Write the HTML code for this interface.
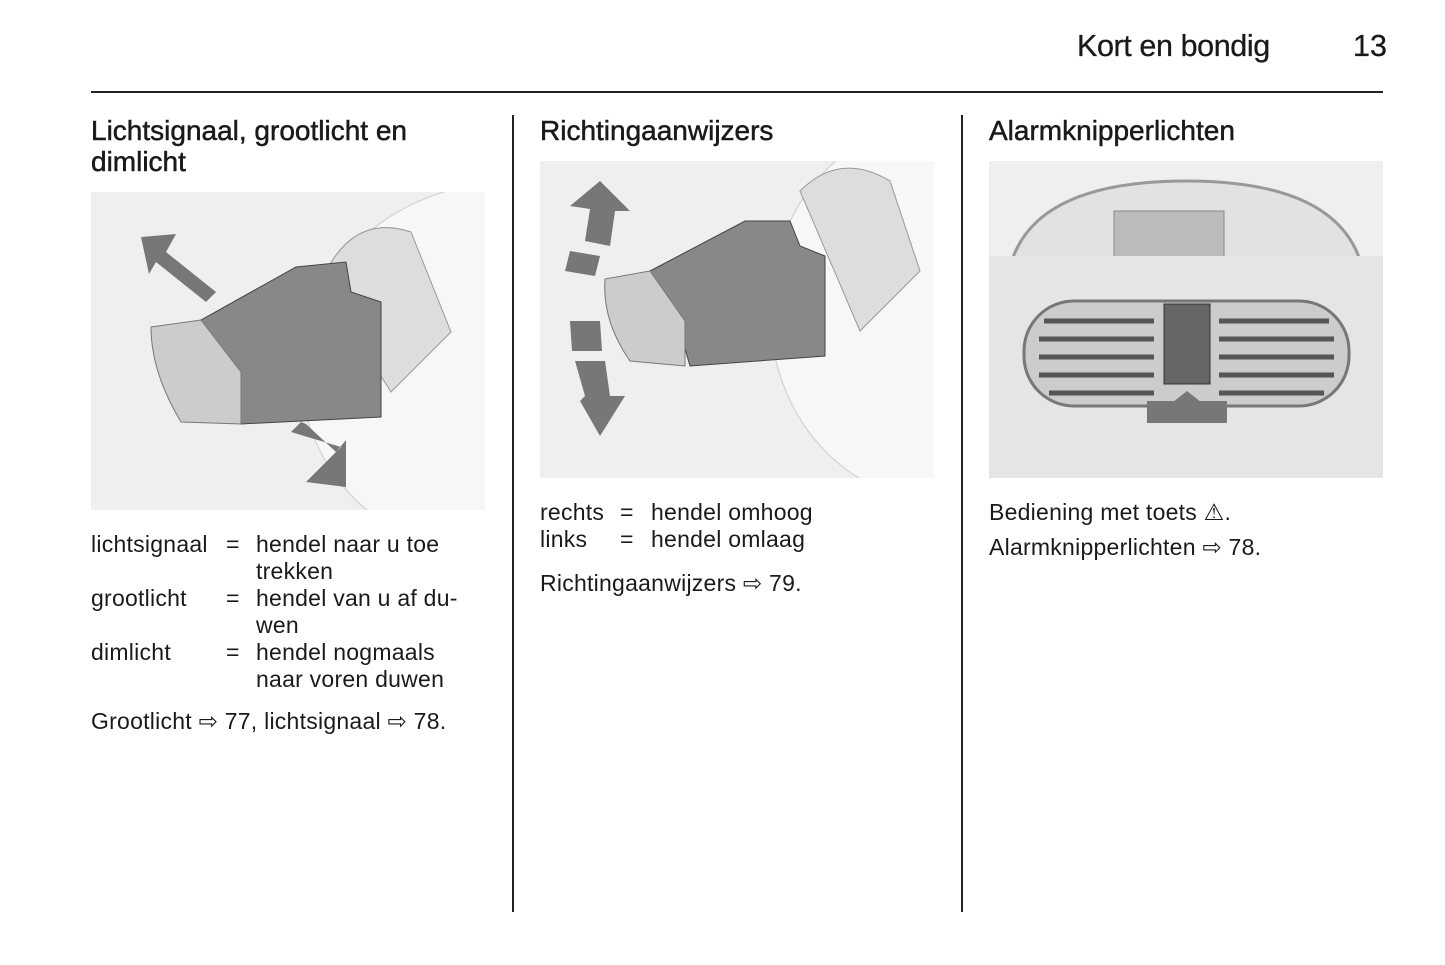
<!DOCTYPE html>
<html><head><meta charset="utf-8"><style>
body{margin:0;width:1445px;height:965px;background:#fff;font-family:"Liberation Sans","DejaVu Sans",sans-serif;color:#1a1a1a;position:relative;overflow:hidden}
.a{position:absolute;white-space:nowrap}
.h{font-size:28px;letter-spacing:0px;-webkit-text-stroke:0.5px #1a1a1a}
.t{font-size:23px;line-height:27px;letter-spacing:0.25px}
.img{position:absolute;background:#efefef}
</style></head><body>
<div class="a" style="left:1077px;top:29px;font-size:30.5px;letter-spacing:-0.4px;-webkit-text-stroke:0.3px #1a1a1a">Kort en bondig</div>
<div class="a" style="left:1353px;top:29px;font-size:30.5px;-webkit-text-stroke:0.3px #1a1a1a">13</div>
<div class="a" style="left:91px;top:91px;width:1292px;height:2px;background:#222"></div>
<div class="a" style="left:512px;top:115px;width:2px;height:797px;background:#222"></div>
<div class="a" style="left:961px;top:115px;width:2px;height:797px;background:#222"></div>

<div class="a h" style="left:91px;top:115px;line-height:31px">Lichtsignaal, grootlicht en<br>dimlicht</div>
<div class="img" style="left:91px;top:192px;width:394px;height:318px">
<svg width="394" height="318">
<ellipse cx="420" cy="180" rx="210" ry="190" fill="#f7f7f7" stroke="#ccc"/>
<path d="M230 90 Q260 20 320 40 L360 140 L300 200 Z" fill="#ddd" stroke="#999"/>
<path d="M205 75 L255 70 L260 100 L290 110 L290 225 L150 232 L140 200 L120 190 L70 170 L60 140 L110 128 Z" fill="#888" stroke="#444"/>
<path d="M60 135 L110 128 L150 180 L150 232 L90 230 Q60 180 60 135Z" fill="#ccc" stroke="#777"/>
<polygon points="50,45 85,42 75,60 125,100 115,110 65,70 58,82" fill="#777"/>
<polygon points="250,255 200,240 210,230 215,232 245,260 255,248 255,295 215,290" fill="#777"/>
</svg></div>
<div class="a t" style="left:91px;top:531px">lichtsignaal<br>&nbsp;<br>grootlicht<br>&nbsp;<br>dimlicht</div>
<div class="a t" style="left:226px;top:531px">=<br>&nbsp;<br>=<br>&nbsp;<br>=</div>
<div class="a t" style="left:256px;top:531px">hendel naar u toe<br>trekken<br>hendel van u af du-<br>wen<br>hendel nogmaals<br>naar voren duwen</div>
<div class="a t" style="left:91px;top:708px">Grootlicht ⇨ 77, lichtsignaal ⇨ 78.</div>

<div class="a h" style="left:540px;top:115px;line-height:31px">Richtingaanwijzers</div>
<div class="img" style="left:540px;top:161px;width:394px;height:317px">
<svg width="394" height="317">
<ellipse cx="400" cy="150" rx="170" ry="190" fill="#f7f7f7" stroke="#ccc"/>
<path d="M260 30 Q300 -10 350 20 L380 110 L320 170 Z" fill="#ddd" stroke="#999"/>
<path d="M205 60 L250 60 L260 85 L285 95 L285 195 L150 205 L140 170 L110 160 L70 150 L65 120 L110 110 Z" fill="#888" stroke="#444"/>
<path d="M65 118 L110 110 L145 160 L145 205 L90 200 Q62 160 65 118Z" fill="#ccc" stroke="#777"/>
<polygon points="60,20 90,50 75,50 70,85 45,80 50,48 30,45" fill="#777"/>
<polygon points="30,90 60,95 55,115 25,110" fill="#777"/>
<polygon points="35,200 65,200 70,235 85,235 60,275 40,240 45,235" fill="#777"/>
<polygon points="30,160 60,160 62,190 32,190" fill="#777"/>
</svg></div>
<div class="a t" style="left:540px;top:499px">rechts<br>links</div>
<div class="a t" style="left:620px;top:499px">=<br>=</div>
<div class="a t" style="left:651px;top:499px">hendel omhoog<br>hendel omlaag</div>
<div class="a t" style="left:540px;top:570px">Richtingaanwijzers ⇨ 79.</div>

<div class="a h" style="left:989px;top:115px;line-height:31px">Alarmknipperlichten</div>
<div class="img" style="left:989px;top:161px;width:394px;height:317px">
<svg width="394" height="317">
<path d="M20 110 Q40 20 197 20 Q354 20 374 110" fill="#e2e2e2" stroke="#999" stroke-width="3"/>
<rect x="125" y="50" width="110" height="70" fill="#bbb" stroke="#888"/>
<rect x="0" y="95" width="394" height="222" fill="#e5e5e5"/>
<rect x="35" y="140" width="325" height="105" rx="50" fill="#ccc" stroke="#777" stroke-width="3"/>
<g stroke="#555" stroke-width="5">
<line x1="55" y1="160" x2="165" y2="160"/><line x1="50" y1="178" x2="165" y2="178"/><line x1="50" y1="196" x2="165" y2="196"/><line x1="50" y1="214" x2="165" y2="214"/><line x1="60" y1="232" x2="165" y2="232"/>
<line x1="230" y1="160" x2="340" y2="160"/><line x1="230" y1="178" x2="345" y2="178"/><line x1="230" y1="196" x2="345" y2="196"/><line x1="230" y1="214" x2="345" y2="214"/><line x1="230" y1="232" x2="335" y2="232"/>
</g>
<rect x="175" y="143" width="46" height="80" fill="#666" stroke="#333"/>
<polygon points="198,250 160,260 198,230 236,260" fill="#777"/>
<rect x="158" y="240" width="80" height="22" fill="#777"/>
</svg></div>
<div class="a t" style="left:989px;top:499px">Bediening met toets ⚠.</div>
<div class="a t" style="left:989px;top:534px">Alarmknipperlichten ⇨ 78.</div>
</body></html>
